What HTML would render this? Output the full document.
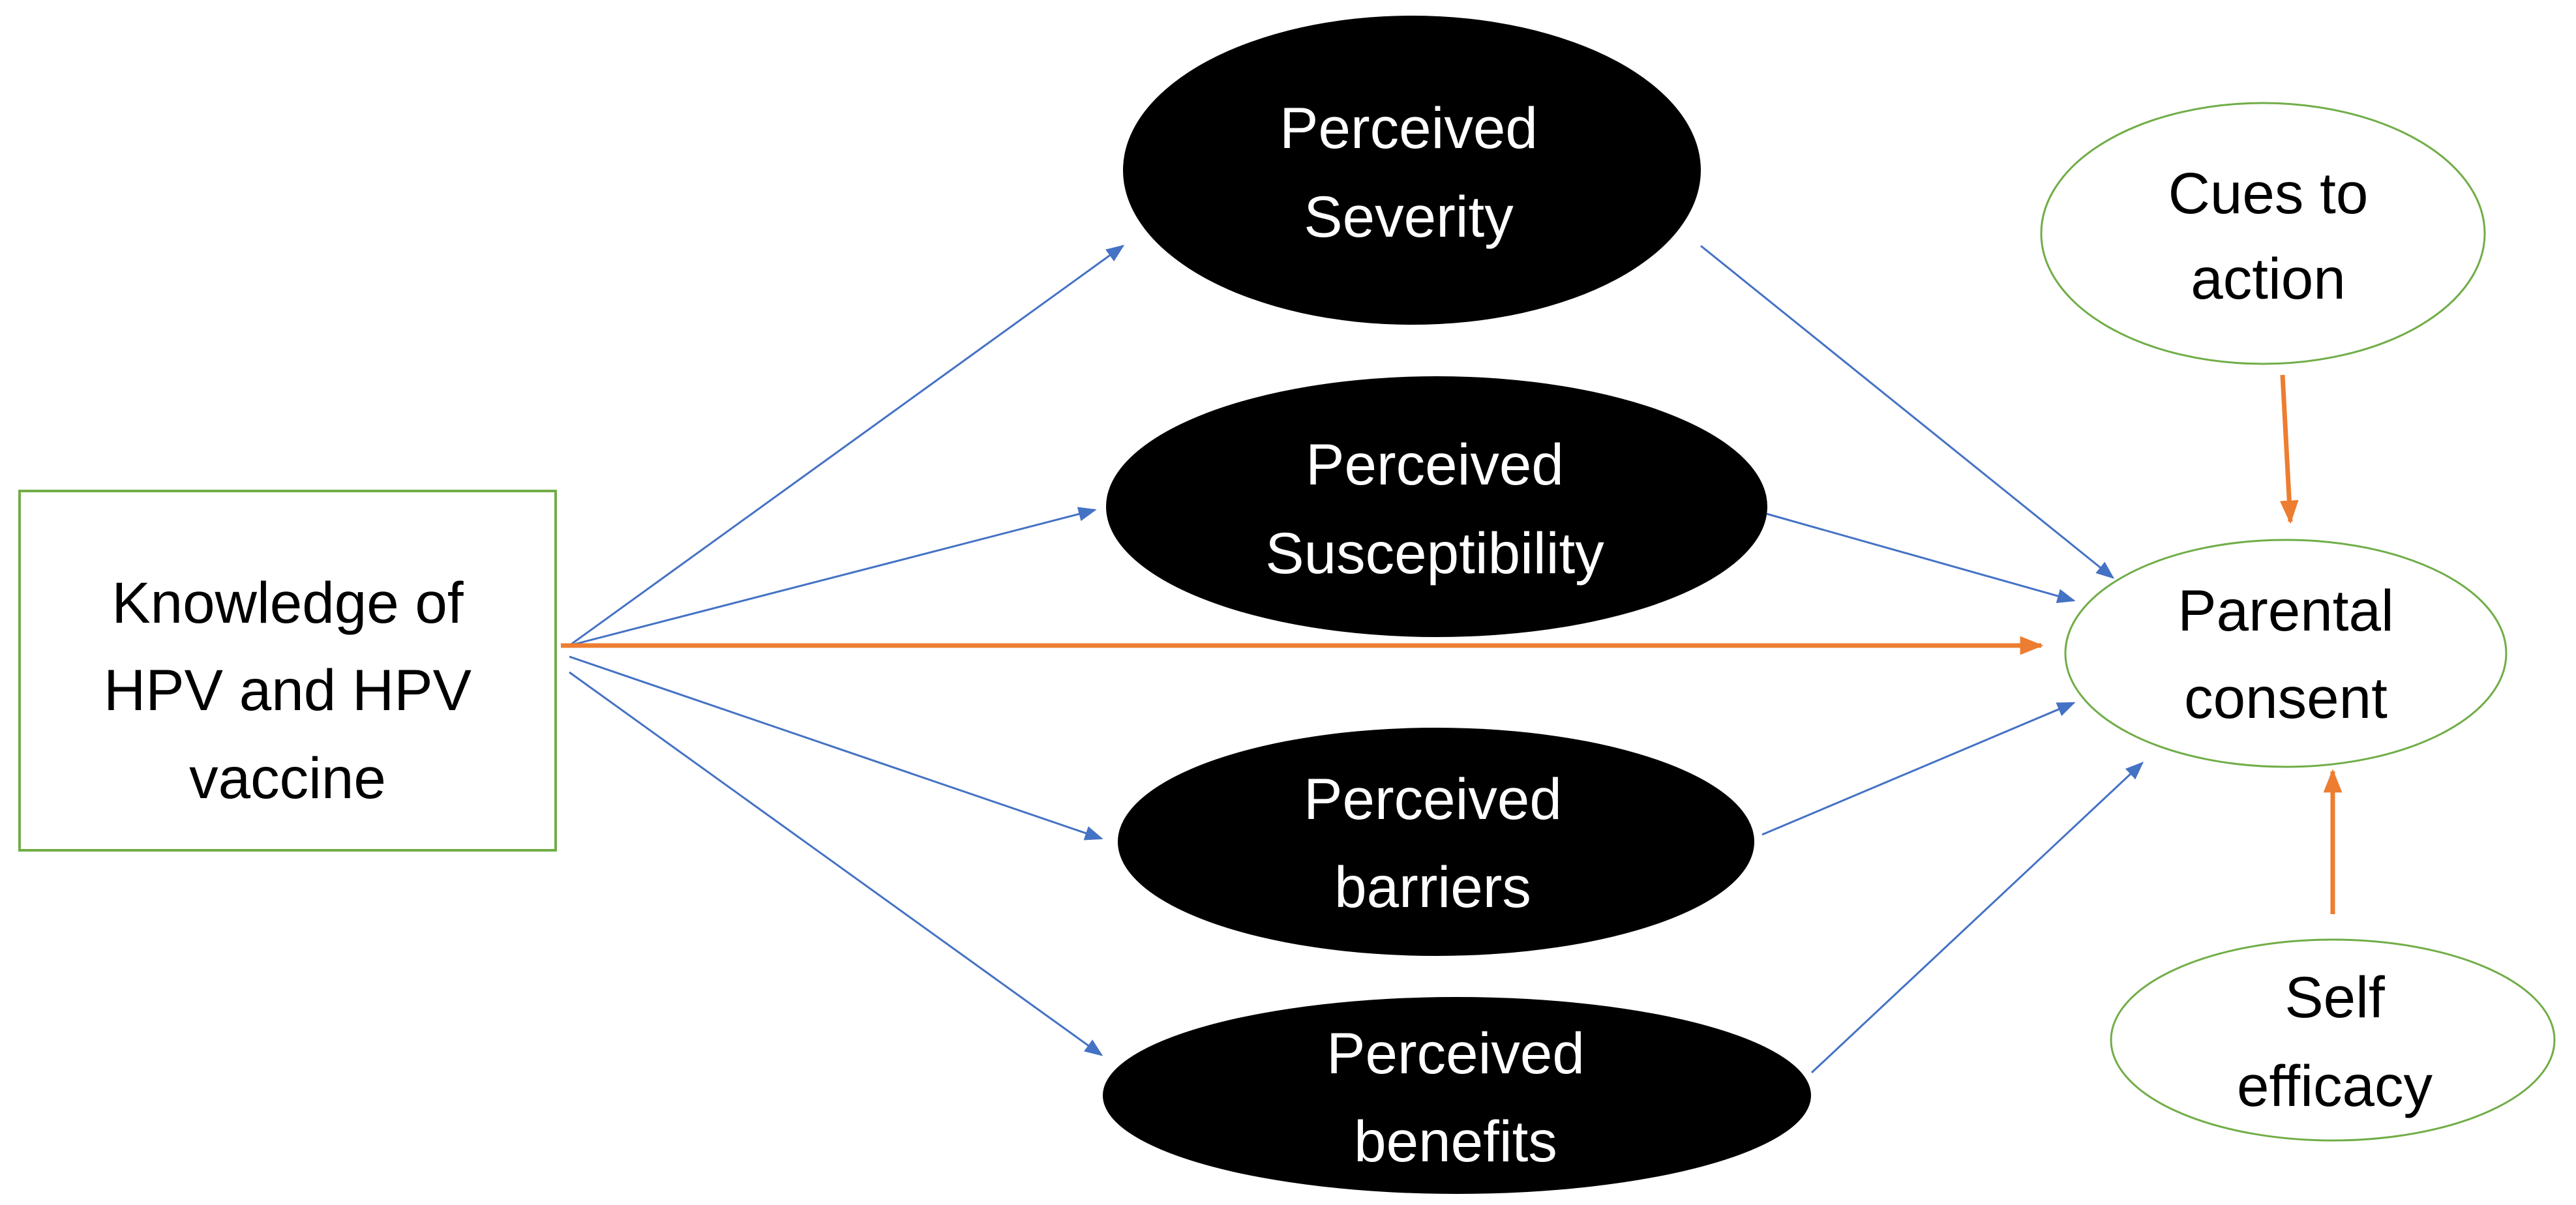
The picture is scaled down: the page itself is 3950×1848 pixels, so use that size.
<!DOCTYPE html>
<html><head><meta charset="utf-8"><style>
html,body{margin:0;padding:0;background:#fff;}
svg{display:block;}
text{font-family:"Liberation Sans",sans-serif;font-size:89px;text-anchor:middle;dominant-baseline:central;}
</style></head><body>
<svg width="3950" height="1848" viewBox="0 0 3950 1848" xmlns="http://www.w3.org/2000/svg">
<defs>
<marker id="ab2" viewBox="0 0 10 10" refX="9" refY="5" markerWidth="28" markerHeight="28" orient="auto" markerUnits="userSpaceOnUse"><path d="M0,1 L10,5 L0,9 z" fill="#4472C4"/></marker>
<marker id="ao" viewBox="0 0 10 10" refX="9" refY="5" markerWidth="36" markerHeight="36" orient="auto" markerUnits="userSpaceOnUse"><path d="M0,1 L10,5 L0,9 z" fill="#ED7D31"/></marker>
</defs>
<rect x="30" y="753" width="822" height="551" fill="#fff" stroke="#70AD47" stroke-width="4"/>
<text x="441" y="924">Knowledge of</text>
<text x="441" y="1058">HPV and HPV</text>
<text x="441" y="1193">vaccine</text>

<ellipse cx="2165" cy="261" rx="443" ry="237" fill="#000"/>
<text x="2160" y="196" fill="#fff">Perceived</text>
<text x="2160" y="332" fill="#fff">Severity</text>
<ellipse cx="2203" cy="777" rx="507" ry="200" fill="#000"/>
<text x="2200" y="712" fill="#fff">Perceived</text>
<text x="2200" y="848" fill="#fff">Susceptibility</text>
<ellipse cx="2202" cy="1291" rx="488" ry="175" fill="#000"/>
<text x="2197" y="1225" fill="#fff">Perceived</text>
<text x="2197" y="1360" fill="#fff">barriers</text>
<ellipse cx="2234" cy="1680" rx="543" ry="151" fill="#000"/>
<text x="2232" y="1615" fill="#fff">Perceived</text>
<text x="2232" y="1750" fill="#fff">benefits</text>

<ellipse cx="3470" cy="358" rx="340" ry="200" fill="#fff" stroke="#70AD47" stroke-width="3"/>
<text x="3478" y="296">Cues to</text>
<text x="3478" y="427">action</text>
<ellipse cx="3505" cy="1002" rx="338" ry="174" fill="#fff" stroke="#70AD47" stroke-width="3"/>
<text x="3505" y="936">Parental</text>
<text x="3505" y="1070">consent</text>
<ellipse cx="3577" cy="1595" rx="340" ry="154" fill="#fff" stroke="#70AD47" stroke-width="3"/>
<text x="3580" y="1529">Self</text>
<text x="3580" y="1665">efficacy</text>

<g stroke="#4472C4" stroke-width="3" fill="none" marker-end="url(#ab2)">
<line x1="873" y1="990" x2="1722" y2="377"/>
<line x1="873" y1="990" x2="1679" y2="782"/>
<line x1="873" y1="1007" x2="1689" y2="1286"/>
<line x1="873" y1="1031" x2="1689" y2="1618"/>
<line x1="2608" y1="377" x2="3240" y2="886"/>
<line x1="2709" y1="788" x2="3180" y2="921"/>
<line x1="2702" y1="1280" x2="3180" y2="1078"/>
<line x1="2778" y1="1645" x2="3285" y2="1170"/>
</g>
<g stroke="#ED7D31" stroke-width="7" fill="none" marker-end="url(#ao)">
<line x1="860" y1="990" x2="3130" y2="990"/>
<line x1="3500" y1="575" x2="3512" y2="800"/>
<line x1="3577" y1="1402" x2="3577" y2="1183"/>
</g>
</svg>
</body></html>
